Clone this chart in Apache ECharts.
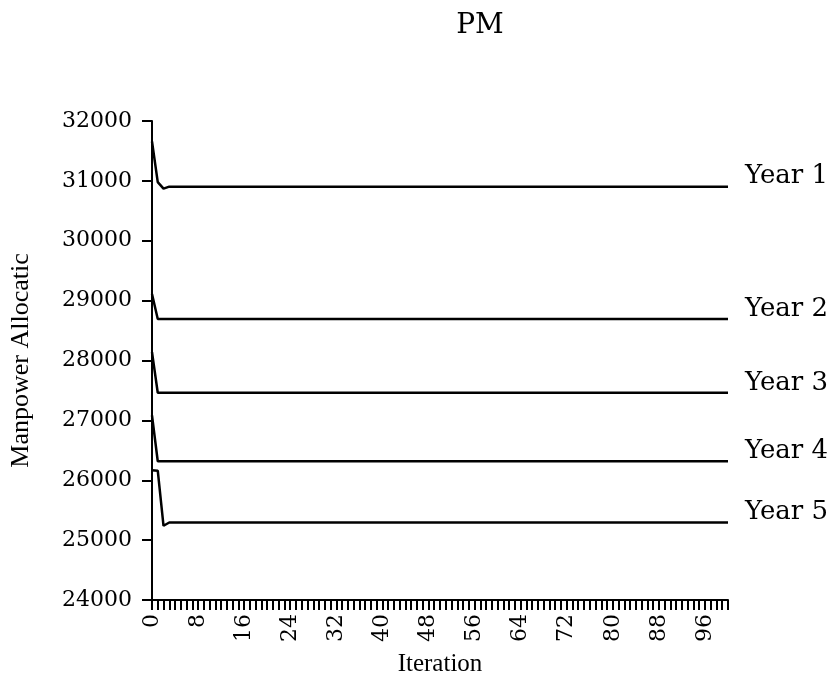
<!DOCTYPE html>
<html>
<head>
<meta charset="utf-8">
<script src="https://cdn.jsdelivr.net/npm/echarts@6/dist/echarts.min.js"></script>
<style>
html,body{margin:0;padding:0;background:#fff;}
#chart{width:838px;height:690px;}
</style>
</head>
<body>
<div id="chart"></div>
<script>
// Data
const iterations = [0, 1, 2, 3, 100];
const year1 = [31657, 30980, 30870, 30903, 30903];
const year2 = [29111, 28694, 28694, 28694, 28694];
const year3 = [28139, 27461, 27461, 27461, 27461];
const year4 = [27083, 26317, 26317, 26317, 26317];
const year5 = [26167, 26160, 25240, 25294, 25294];
const seriesNames = ['Year 1', 'Year 2', 'Year 3', 'Year 4', 'Year 5'];
const yTicks = [24000, 25000, 26000, 27000, 28000, 29000, 30000, 31000, 32000];
const xLabelStep = 8;
const xLabelMax = 96;

const allYears = [year1, year2, year3, year4, year5];
const serif = "'DejaVu Serif', 'Liberation Serif', serif";

const chart = echarts.init(document.getElementById('chart'), null, {renderer: 'canvas'});
chart.setOption({
  backgroundColor: '#fff',
  animation: false,
  title: {
    text: 'PM',
    left: 475,
    top: 7,
    textAlign: 'center',
    textStyle: {fontFamily: serif, fontSize: 28, fontWeight: 'normal', color: '#000'}
  },
  grid: {left: 152, right: 110, top: 121, bottom: 90, containLabel: false, outerBoundsMode: 'none'},
  xAxis: {
    type: 'value',
    min: 0, max: 100, interval: 1,
    name: 'Iteration',
    nameLocation: 'middle',
    nameGap: 52,
    nameTextStyle: {fontFamily: "'Liberation Serif', serif", fontSize: 25, color: '#000'},
    axisLine: {show: true, lineStyle: {color: '#000', width: 2}},
    axisTick: {show: true, length: 10, lineStyle: {color: '#000', width: 2}},
    splitLine: {show: false},
    axisLabel: {
      rotate: 90,
      margin: 14,
      fontFamily: serif,
      fontSize: 22,
      color: '#000',
      formatter: function (v) { return (v % xLabelStep === 0 && v <= xLabelMax) ? String(v) : ''; }
    }
  },
  yAxis: {
    type: 'value',
    min: yTicks[0], max: yTicks[yTicks.length - 1], interval: 1000,
    name: 'Manpower Allocatic',
    nameLocation: 'middle',
    nameGap: 118,
    nameRotate: 90,
    nameTextStyle: {fontFamily: "'Liberation Serif', serif", fontSize: 26, color: '#000'},
    axisLine: {show: true, lineStyle: {color: '#000', width: 2}},
    axisTick: {show: true, length: 10, lineStyle: {color: '#000', width: 2}},
    splitLine: {show: false},
    axisLabel: {
      margin: 20, fontFamily: serif, fontSize: 22, color: '#000',
      formatter: function (v) { return String(v); }
    }
  },
  series: allYears.map(function (vals, i) {
    return {
      name: seriesNames[i],
      type: 'line',
      data: iterations.map(function (x, j) { return [x, vals[j]]; }),
      showSymbol: false,
      symbol: 'none',
      lineStyle: {color: '#000', width: 2.5},
      endLabel: {
        show: true,
        formatter: '{a}',
        distance: 17,
        offset: [0, -10],
        fontFamily: serif,
        fontSize: 26,
        color: '#000'
      }
    };
  })
});
</script>
</body>
</html>
